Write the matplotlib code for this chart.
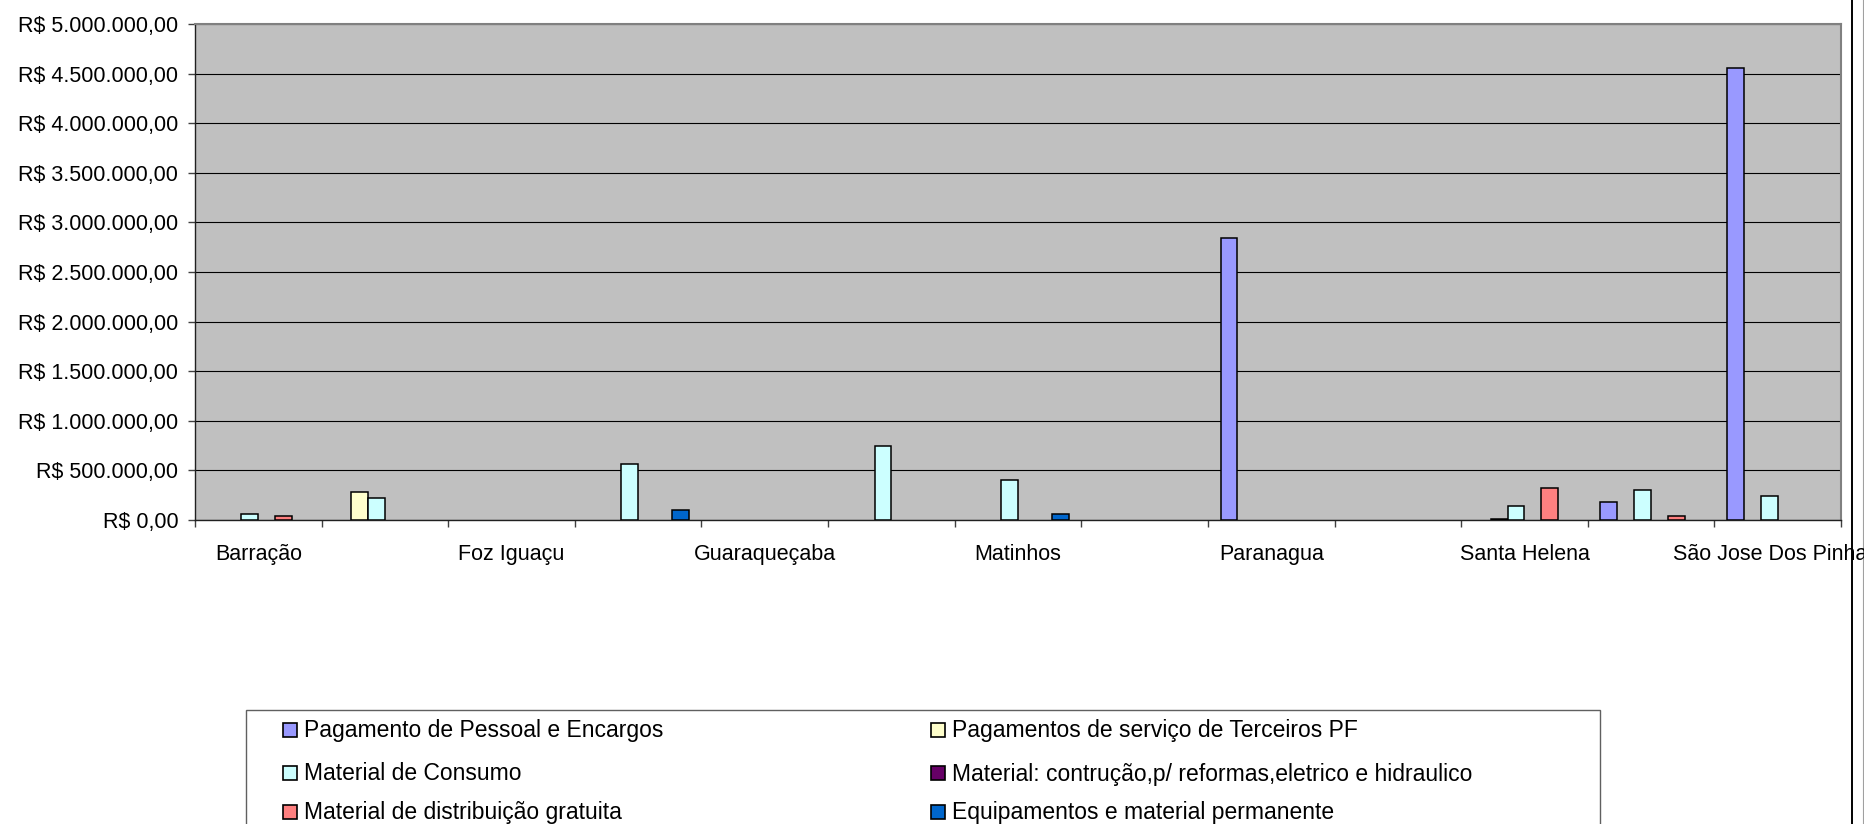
import matplotlib
matplotlib.use("Agg")
import matplotlib.pyplot as plt
from matplotlib.patches import Rectangle
from matplotlib.lines import Line2D
from matplotlib.ticker import FuncFormatter, FixedLocator
import numpy as np

plt.rcParams['font.family'] = ['Liberation Sans', 'DejaVu Sans']

categories = ["Barração", "Curitiba", "Foz Iguaçu", "Francisco Beltrão",
              "Guaraqueçaba", "Guaratuba", "Matinhos", "Morretes",
              "Paranagua", "Pontal do Paraná", "Santa Helena",
              "Santa Terezinha de Itaipu", "São Jose Dos Pinhais"]

series_names = ["Pagamento de Pessoal e Encargos",
                "Pagamentos de serviço de Terceiros PF",
                "Material de Consumo",
                "Material: contrução,p/ reformas,eletrico e hidraulico",
                "Material de distribuição gratuita",
                "Equipamentos e material permanente"]

pessoal      = [0, 0, 0, 0, 0, 0, 0, 0, 2845000, 0, 0, 178000, 4560000]
terceiros_pf = [0, 279000, 0, 0, 0, 0, 0, 0, 0, 0, 15000, 0, 0]
consumo      = [60000, 225000, 0, 563000, 0, 747000, 404000, 0, 0, 0, 141000, 299000, 242000]
construcao   = [0, 0, 0, 0, 0, 0, 0, 0, 0, 0, 0, 0, 0]
distribuicao = [40000, 0, 0, 0, 0, 0, 0, 0, 0, 0, 320000, 40000, 0]
equipamentos = [0, 0, 0, 101000, 0, 0, 58000, 0, 0, 0, 0, 0, 0]

series_values = [pessoal, terceiros_pf, consumo, construcao, distribuicao, equipamentos]
colors = ["#9999FF", "#FFFFCC", "#CCFFFF", "#660066", "#FF8080", "#0066CC"]

W, H = 1864, 824
fig = plt.figure(figsize=(W / 100, H / 100), dpi=100)
fig.patch.set_facecolor("white")

L, R, T, B = 195, 1841, 24, 520
ax = fig.add_axes([L / W, 1 - B / H, (R - L) / W, (B - T) / H])
ax.set_facecolor("#C0C0C0")

n = len(categories)
x = np.arange(n)
w = 1 / 7.5
for i, vals in enumerate(series_values):
    v = np.array(vals, dtype=float)
    mask = v > 0
    ax.bar((x + (i - 2.5) * w)[mask], v[mask], width=w, color=colors[i],
           edgecolor="black", linewidth=1.1, zorder=3)

ax.set_xlim(-0.5, n - 0.5)
ax.set_ylim(0, 5000000)
yticks = np.arange(0, 5000001, 500000)
ax.set_yticks(yticks)

def fmt(v, pos):
    s = f"{int(round(v)):,}".replace(",", ".")
    return f"R$ {s},00"

ax.yaxis.set_major_formatter(FuncFormatter(fmt))
ax.yaxis.grid(True, color="black", linewidth=0.8, zorder=1)
ax.set_axisbelow(True)

ax.xaxis.set_major_locator(FixedLocator(x[::2]))
ax.set_xticklabels([categories[k] for k in range(0, n, 2)])
ax.xaxis.set_minor_locator(FixedLocator(np.arange(-0.5, n, 1.0)))
ax.tick_params(axis="x", which="major", length=0, pad=17, labelsize=15.5)
ax.tick_params(axis="x", which="minor", length=5, width=1, color="#404040", direction="out")
ax.tick_params(axis="y", which="major", length=5, width=1, color="#404040",
               direction="out", pad=7, labelsize=15.5)

for side in ["top", "right"]:
    ax.spines[side].set_color("#808080")
    ax.spines[side].set_linewidth(1.5)
for side in ["left", "bottom"]:
    ax.spines[side].set_color("#202020")
    ax.spines[side].set_linewidth(1.0)

# chart border lines on the right
fig.add_artist(Line2D([1852 / W, 1852 / W], [0, 1], transform=fig.transFigure,
                      color="black", linewidth=1.4, zorder=0))
fig.add_artist(Line2D([1862.5 / W, 1862.5 / W], [0, 1], transform=fig.transFigure,
                      color="#A0A0A0", linewidth=0.8, zorder=0))

# legend (manual, box cut by the figure bottom)
fig.add_artist(Rectangle((245.5 / W, 1 - 860 / H), (1600 - 245.5) / W, (860 - 710) / H,
                         transform=fig.transFigure, facecolor="white",
                         edgecolor="#606060", linewidth=1.0, zorder=1))
col_x = [283, 931]
row_y = [730, 773, 812]
sq = 14
for i, name in enumerate(series_names):
    r, c = i // 2, i % 2
    x0, yc = col_x[c], row_y[r]
    fig.add_artist(Rectangle((x0 / W, 1 - (yc + sq / 2) / H), sq / W, sq / H,
                             transform=fig.transFigure, facecolor=colors[i],
                             edgecolor="black", linewidth=1.2, zorder=2))
    fig.text((x0 + sq + 7) / W, 1 - (yc + 7.5) / H, name, fontsize=16.5,
             va="baseline", ha="left", zorder=3)

fig.savefig("out.png", dpi=100)
